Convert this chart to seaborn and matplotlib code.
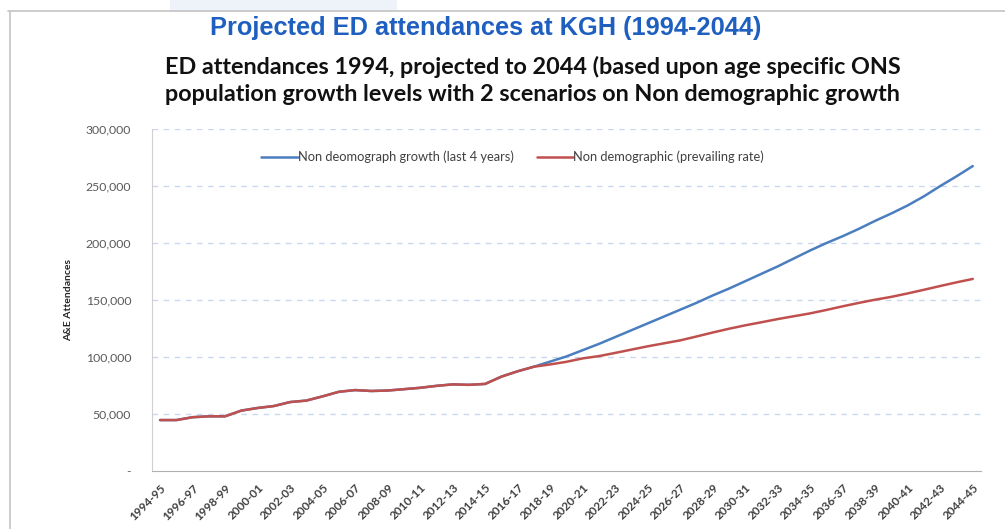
import pandas as pd
import matplotlib.pyplot as plt
import seaborn as sns
from matplotlib.lines import Line2D
from matplotlib.patches import Rectangle
from matplotlib.ticker import FuncFormatter

# financial years 1994-95 .. 2044-45
years = [f"{y}-{str(y + 1)[-2:]}" for y in range(1994, 2045)]

# prevailing rate scenario (thousands)
red_vals = [44.7, 44.7, 47.2, 48.0, 48.0, 53.0, 55.3, 57.0, 60.5, 61.8,
            65.5, 69.5, 71.0, 70.2, 70.6, 71.8, 73.0, 74.7, 76.0, 75.6,
            76.4, 82.8, 87.5, 91.5, 93.5, 95.8, 98.8, 100.8, 103.6, 106.5,
            109.4, 112.0, 114.6, 118.0, 121.5, 124.8, 127.8, 130.5, 133.3, 135.8,
            138.3, 141.3, 144.5, 147.5, 150.3, 152.8, 155.8, 159.0, 162.3, 165.5,
            168.5]

# last 4 years growth scenario (thousands)
blue_vals = [44.7, 44.7, 47.2, 48.0, 48.0, 53.0, 55.3, 57.0, 60.5, 61.8,
             65.5, 69.5, 71.0, 70.2, 70.6, 71.8, 73.0, 74.7, 76.0, 75.6,
             76.4, 82.8, 87.5, 91.5, 96.0, 100.5, 106.0, 111.5, 117.5, 123.5,
             129.5, 135.5, 141.5, 147.5, 154.0, 160.0, 166.5, 173.0, 179.5, 186.5,
             193.5, 200.0, 206.0, 212.5, 219.5, 226.0, 233.0, 241.0, 250.0, 258.5,
             267.5]

blue_name = "Non deomograph growth (last 4 years)"
red_name = "Non demographic (prevailing rate)"

df = pd.concat([
    pd.DataFrame({'year': years, 'attendances': [v * 1000 for v in blue_vals], 'scenario': blue_name}),
    pd.DataFrame({'year': years, 'attendances': [v * 1000 for v in red_vals], 'scenario': red_name}),
])

sns.set_style('white')
plt.rcParams['font.family'] = ['Lato', 'DejaVu Sans']

fig = plt.figure(figsize=(10.05, 5.29), dpi=100)
ax = fig.add_axes([0.1512, 0.1096, 0.8248, 0.6465])

sns.lineplot(data=df, x='year', y='attendances', hue='scenario', sort=False,
             palette={blue_name: '#4a7ebf', red_name: '#c0504d'},
             linewidth=1.8, ax=ax)

ax.set_xlim(-0.5, len(years) - 0.5)
ax.set_ylim(0, 300000)
ax.set_yticks(range(0, 300001, 50000))
ax.yaxis.set_major_formatter(FuncFormatter(lambda v, p: '-' if v == 0 else f"{int(v):,}"))
ax.tick_params(axis='y', labelsize=8.8, colors='#595959', length=0, pad=15)
for v in range(50000, 300001, 50000):
    ax.axhline(v, color='#c9d7ef', lw=1, ls=(0, (4, 4)), zorder=0)

ax.set_xticks(range(0, len(years), 2))
ax.set_xticklabels(years[::2], rotation=45, ha='right', rotation_mode='anchor',
                   fontsize=8.5, color='#404040', fontweight='bold')
ax.set_xticks([i - 0.5 for i in range(len(years) + 1)], minor=True)
ax.tick_params(axis='x', which='major', length=0, pad=8)
ax.tick_params(axis='x', which='minor', length=4, color='#a6a6a6', width=0.8, direction='out')

for s in ['top', 'right']:
    ax.spines[s].set_visible(False)
ax.spines['left'].set_color('#d0d0d0')
ax.spines['bottom'].set_color('#b0b0b0')

ax.set_xlabel('')
ax.set_ylabel('A&E Attendances', fontsize=7.5, fontweight='bold', color='#262626', labelpad=9)

leg = ax.legend(loc='center', bbox_to_anchor=(0.435, 0.918), ncol=2, frameon=False,
                fontsize=9.3, handlelength=2.8, handletextpad=0.0, columnspacing=1.8)
for t in leg.get_texts():
    t.set_color('#404040')

# slide frame
fig.add_artist(Rectangle((170 / 1005, 1 - 11 / 529), 227 / 1005, 11 / 529,
                         transform=fig.transFigure, color='#eef3fa', lw=0))
fig.add_artist(Line2D([8 / 1005, 1], [1 - 11 / 529] * 2, transform=fig.transFigure,
                      color='#c4c4c4', lw=1.2))
fig.add_artist(Line2D([10 / 1005] * 2, [0, 1 - 11 / 529], transform=fig.transFigure,
                      color='#c4c4c4', lw=1.2))

fig.text(0.483, 1 - 28 / 529, 'Projected ED attendances at KGH (1994-2044)',
         ha='center', va='center', fontsize=18.3, fontweight='bold', color='#1f5fbf',
         family=['Liberation Sans Narrow', 'Liberation Sans', 'DejaVu Sans'])
fig.text(0.53, 1 - 80 / 529,
         'ED attendances 1994, projected to 2044 (based upon age specific ONS\n'
         'population growth levels with 2 scenarios on Non demographic growth',
         ha='center', va='center', fontsize=16.8, fontweight='bold', color='#111111',
         linespacing=1.35)

fig.savefig('out.png', dpi=100)
